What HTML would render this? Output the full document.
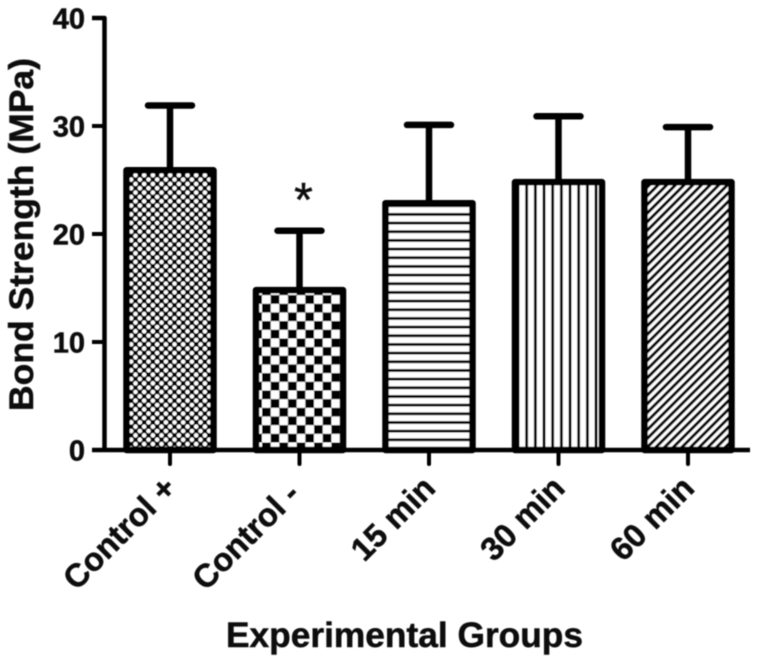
<!DOCTYPE html>
<html>
<head>
<meta charset="utf-8">
<title>Bond Strength by Experimental Group</title>
<style>
html,body{margin:0;padding:0;background:#fff;width:760px;height:659px;overflow:hidden}
svg{display:block}
text{font-family:"Liberation Sans",Arial,sans-serif;font-weight:bold;fill:#111;stroke:#111;stroke-width:0.5}
</style>
</head>
<body>
<svg id="chart" xmlns="http://www.w3.org/2000/svg" width="760" height="659" viewBox="0 0 760 659">
  <defs>
    <filter id="soft" x="-5%" y="-5%" width="110%" height="110%"><feGaussianBlur stdDeviation="0.5"/></filter>
    <pattern id="p-fine" patternUnits="userSpaceOnUse" width="8.67" height="8.67" x="129" y="4">
      <rect width="8.67" height="8.67" fill="#000"/>
      <circle cx="2.17" cy="2.17" r="2.25" fill="#fff"/>
      <circle cx="6.5" cy="6.5" r="2.25" fill="#fff"/>
    </pattern>
    <pattern id="p-check" patternUnits="userSpaceOnUse" width="17.34" height="17.34" x="262" y="9">
      <rect width="17.34" height="17.34" fill="#fff"/>
      <rect width="8.67" height="8.67" fill="#000"/>
      <rect x="8.67" y="8.67" width="8.67" height="8.67" fill="#000"/>
    </pattern>
    <pattern id="p-horiz" patternUnits="userSpaceOnUse" width="8.67" height="8.67" x="0" y="210">
      <rect width="8.67" height="8.67" fill="#fff"/>
      <rect y="3" width="8.67" height="2.8" fill="#000"/>
    </pattern>
    <pattern id="p-vert" patternUnits="userSpaceOnUse" width="8.67" height="8.67" x="522.3" y="0">
      <rect width="8.67" height="8.67" fill="#fff"/>
      <rect x="3" width="2.8" height="8.67" fill="#000"/>
    </pattern>
    <pattern id="p-diag" patternUnits="userSpaceOnUse" width="6.13" height="6.13" patternTransform="rotate(45)">
      <rect width="6.13" height="6.13" fill="#fff"/>
      <rect width="3" height="6.13" fill="#000"/>
    </pattern>
  </defs>
  <g id="plot" filter="url(#soft)"></g>
</svg>
<script>
var categories = ["Control +", "Control -", "15 min", "30 min", "60 min"];
var meanValues = [25.9, 14.8, 22.85, 24.8, 24.8];
var errorValues = [6, 5.5, 7.25, 6.1, 5.1];
var yTicks = [0, 10, 20, 30, 40];
var fillPatterns = ["p-fine", "p-check", "p-horiz", "p-vert", "p-diag"];
var significanceMarks = ["", "*", "", "", ""];

var NS = "http://www.w3.org/2000/svg";
var plot = document.getElementById("plot");

function yScale(v) { return 450 - v * 10.8; }
function xScale(i) { return 170 + i * 129.5; }

function make(tag, attrs, text) {
  var el = document.createElementNS(NS, tag);
  for (var k in attrs) el.setAttribute(k, attrs[k]);
  if (text !== undefined) el.textContent = text;
  plot.appendChild(el);
  return el;
}

var barW = 87, el;

categories.forEach(function (cat, i) {
  var cx = xScale(i), top = yScale(meanValues[i]), capY = yScale(meanValues[i] + errorValues[i]);

  el = make("line", {x1: cx, x2: cx, y1: top, y2: capY, stroke: "#000", "stroke-width": 6.5});
  
  

  el = make("line", {x1: cx - 22, x2: cx + 22, y1: capY, y2: capY, stroke: "#000", "stroke-width": 6.5, "stroke-linecap": "round"});
  
  

  el = make("rect", {x: cx - barW / 2, y: top, width: barW, height: 450 - top, fill: "url(#" + fillPatterns[i] + ")", stroke: "#000", "stroke-width": 6.5, "stroke-linejoin": "round"});
  
  

  if (significanceMarks[i]) {
    el = make("text", {x: cx + 4, y: capY - 15, "text-anchor": "middle", "font-size": 48, style: "font-weight:normal"}, significanceMarks[i]);
    
    
  }

  el = make("line", {x1: cx, x2: cx, y1: 450, y2: 464, stroke: "#000", "stroke-width": 4, "stroke-linecap": "round"});
  
  

  var hyphenNudge = cat.slice(-1) === "-" ? 6 : 0;
  var lx = cx + 8 - hyphenNudge, ly = 490 + hyphenNudge;
  el = make("text", {x: lx, y: ly, "text-anchor": "end", "font-size": 32.5, transform: "rotate(-45 " + lx + " " + ly + ")"}, cat);
  
  
});

el = make("path", {d: "M92 18 H104.5 V450", fill: "none", stroke: "#000", "stroke-width": 4.5, "stroke-linejoin": "round"});



el = make("line", {x1: 92, x2: 750, y1: 450, y2: 450, stroke: "#000", "stroke-width": 4.5});



yTicks.forEach(function (t) {
  var y = yScale(t);
  el = make("line", {x1: 92, x2: 104, y1: y, y2: y, stroke: "#000", "stroke-width": 4});
  
  

  el = make("text", {x: 85, y: y + 10.5, "text-anchor": "end", "font-size": 29}, String(t));
  
  
});

el = make("text", {x: 33, y: 234.5, "text-anchor": "middle", "font-size": 34, textLength: 353, lengthAdjust: "spacingAndGlyphs", transform: "rotate(-90 33 234.5)"}, "Bond Strength (MPa)");



el = make("text", {x: 404.5, y: 647, "text-anchor": "middle", "font-size": 35, textLength: 357, lengthAdjust: "spacingAndGlyphs"}, "Experimental Groups");


</script>
</body>
</html>
